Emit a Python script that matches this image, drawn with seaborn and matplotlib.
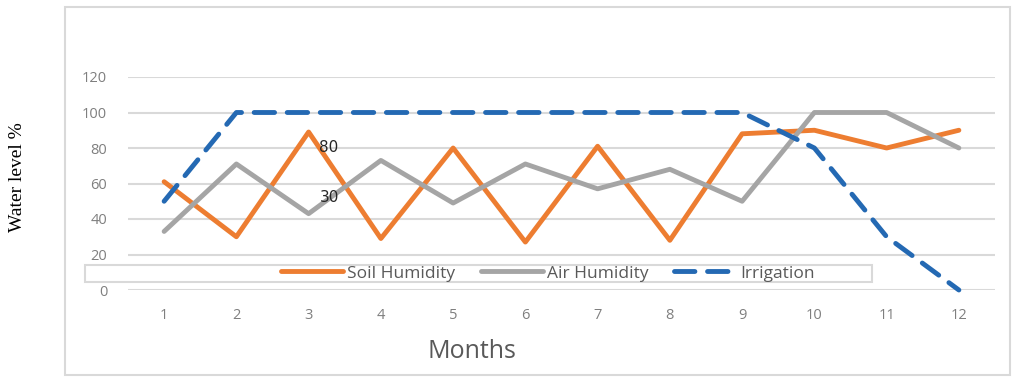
import seaborn as sns
import matplotlib.pyplot as plt
import matplotlib.patches as mpatches
import pandas as pd

# data
months = [1, 2, 3, 4, 5, 6, 7, 8, 9, 10, 11, 12]
soil_humidity = [61, 30, 89, 29, 80, 27, 81, 28, 88, 90, 80, 90]
air_humidity = [33, 71, 43, 73, 49, 71, 57, 68, 50, 100, 100, 80]
irrigation = [50, 100, 100, 100, 100, 100, 100, 100, 100, 80, 30, 0]
y_ticks = [0, 20, 40, 60, 80, 100, 120]

df = pd.DataFrame({'month': months, 'Soil Humidity': soil_humidity,
                   'Air Humidity': air_humidity, 'Irrigation': irrigation})

sns.set_style("white")
plt.rcParams['font.family'] = ['Open Sans', 'DejaVu Sans']

fig = plt.figure(figsize=(10.17, 3.78), dpi=100)
ax = fig.add_axes([128 / 1017, 1 - 290 / 378, (995 - 128) / 1017, (290 - 77) / 378])

# outer chart border
fig.patches.append(mpatches.Rectangle((65 / 1017, 1 - 375 / 378), (1010 - 65) / 1017, (375 - 7) / 378,
                                      transform=fig.transFigure, fill=False, edgecolor='#d9d9d9', lw=1.5))

ax.yaxis.grid(True, color='#d9d9d9', lw=1.5)
ax.xaxis.grid(False)
ax.set_axisbelow(True)
for s in ax.spines.values():
    s.set_visible(False)

sns.lineplot(data=df, x='month', y='Soil Humidity', ax=ax, color='#ED7D31', lw=3.5,
             label='Soil Humidity', clip_on=False)
sns.lineplot(data=df, x='month', y='Air Humidity', ax=ax, color='#A5A5A5', lw=3.5,
             label='Air Humidity', clip_on=False)
sns.lineplot(data=df, x='month', y='Irrigation', ax=ax, color='#2469B3', lw=3.5,
             label='Irrigation', clip_on=False)
irr_line = ax.get_lines()[2]
irr_line.set_dashes((4.2, 2.6))
irr_line.set_dash_capstyle('round')

ax.set_xlim(0.5, 12.5)
ax.set_ylim(0, 120)
ax.set_xticks(months)
ax.set_yticks(y_ticks)
ax.tick_params(axis='both', colors='#7f7f7f', labelsize=10.5, length=0)
ax.tick_params(axis='y', pad=15)
ax.tick_params(axis='x', pad=13)

ax.set_xlabel('')
ax.set_ylabel('')
fig.text(472 / 1017, 1 - 352 / 378, 'Months', va='center', ha='center',
         fontsize=18, color='#595959')
fig.text(18 / 1017, 1 - 177 / 378, 'Water level %', rotation=90, va='center', ha='center',
         fontsize=14, family='Liberation Serif', color='black')

ax.text(3.15, 80, '80', fontsize=11, va='center', ha='left', family='DejaVu Sans')
ax.text(3.15, 52, '30', fontsize=11, va='center', ha='left', family='DejaVu Sans')

# legend box inside the plot
box = mpatches.Rectangle((85 / 1017, 1 - 282 / 378), (872 - 85) / 1017, 17 / 378,
                         transform=fig.transFigure, facecolor='white',
                         edgecolor='#d9d9d9', lw=1.5, zorder=5, clip_on=False)
ax.add_patch(box)
leg = ax.legend(loc='center left', bbox_to_anchor=(272 / 1017, 1 - 273.5 / 378),
                bbox_transform=fig.transFigure, ncol=3, frameon=False, fontsize=12.5,
                handlelength=3.6, handletextpad=0.2, columnspacing=1.5, borderpad=0)
leg.set_zorder(6)
for t in leg.get_texts():
    t.set_color('#595959')

plt.savefig('out.png', dpi=100)
